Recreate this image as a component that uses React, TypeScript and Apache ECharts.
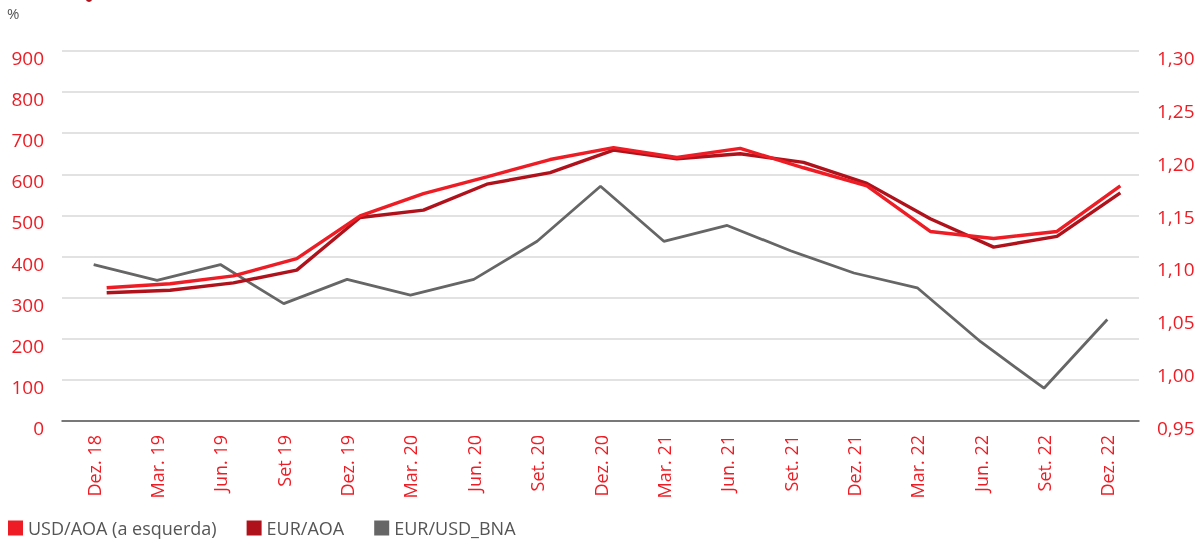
import React, { useEffect, useRef } from "react";
import * as echarts from "echarts";

const categories = [
  "Dez. 18", "Mar. 19", "Jun. 19", "Set 19", "Dez. 19", "Mar. 20", "Jun. 20", "Set. 20", "Dez. 20",
  "Mar. 21", "Jun. 21", "Set. 21", "Dez. 21", "Mar. 22", "Jun. 22", "Set. 22", "Dez. 22",
];
const usdAoa = [324, 334, 353, 395, 499, 553, 594, 636, 665, 641, 663, 616, 572, 461, 444, 461, 572];
const eurAoa = [312, 318, 336, 367, 495, 513, 576, 604, 659, 638, 650, 629, 578, 492, 423, 449, 555];
const eurUsdBna = [1.098, 1.083, 1.098, 1.061, 1.084, 1.069, 1.084, 1.12, 1.172, 1.12, 1.135, 1.111, 1.09, 1.076, 1.025, 0.981, 1.046];
const leftTicks = { min: 0, max: 900, interval: 100 };
const rightTicks = { min: 0.95, max: 1.3, interval: 0.05 };

const RED = "#ee1d25";
const DARK_RED = "#b0121b";
const GRAY = "#666666";
const FONT = "Open Sans";

export default function App() {
  const ref = useRef<HTMLDivElement>(null);
  useEffect(() => {
    if (!ref.current) return;
    const chart = echarts.init(ref.current, null, { renderer: "svg" });
    const labelStyle = { color: RED, fontSize: 18, fontFamily: FONT };
    chart.setOption({
      animation: false,
      textStyle: { fontFamily: FONT },
      graphic: [
        { type: "text", left: 7, top: 5, style: { text: "%", fill: "#555", fontSize: 15, fontFamily: FONT } },
        { type: "circle", shape: { cx: 89, cy: -1, r: 3 }, style: { fill: DARK_RED } },
      ],
      legend: {
        left: 3,
        top: 514,
        icon: "rect",
        itemWidth: 15,
        itemHeight: 15,
        itemGap: 30,
        textStyle: { color: "#555", fontSize: 18, fontFamily: FONT },
        data: ["USD/AOA (a esquerda)", "EUR/AOA", "EUR/USD_BNA"],
      },
      grid: [
        { left: 62, right: 61, top: 51, bottom: 120 },
        { left: 75, right: 48, top: 51, bottom: 120 },
      ],
      xAxis: [
        {
          type: "category",
          gridIndex: 0,
          data: categories,
          boundaryGap: true,
          axisLine: { lineStyle: { color: "#555", width: 1.5 } },
          axisTick: { alignWithLabel: true, inside: true, length: 9, lineStyle: { color: "#444", width: 1.5 } },
          axisLabel: { ...labelStyle, rotate: 90, margin: 14, interval: 0 },
        },
        {
          type: "category",
          gridIndex: 1,
          data: categories,
          boundaryGap: true,
          show: false,
        },
      ],
      yAxis: [
        {
          type: "value",
          gridIndex: 0,
          position: "left",
          ...leftTicks,
          axisLine: { show: false },
          axisTick: { show: false },
          splitLine: { lineStyle: { color: "#d9d9d9", width: 1.5 } },
          axisLabel: { ...labelStyle, fontSize: 19, margin: 18, verticalAlign: "top", lineHeight: 14 },
        },
        {
          type: "value",
          gridIndex: 0,
          position: "right",
          ...rightTicks,
          axisLine: { show: false },
          axisTick: { show: false },
          splitLine: { show: false },
          axisLabel: {
            ...labelStyle,
            fontSize: 19,
            margin: 18,
            verticalAlign: "top",
            lineHeight: 14,
            formatter: (v: number) => v.toFixed(2).replace(".", ","),
          },
        },
        {
          type: "value",
          gridIndex: 1,
          ...leftTicks,
          show: false,
          splitLine: { show: false },
        },
      ],
      series: [
        {
          name: "EUR/USD_BNA",
          type: "line",
          xAxisIndex: 0,
          yAxisIndex: 1,
          data: eurUsdBna,
          symbol: "none",
          lineStyle: { color: GRAY, width: 2.8 },
          itemStyle: { color: GRAY },
        },
        {
          name: "EUR/AOA",
          type: "line",
          xAxisIndex: 1,
          yAxisIndex: 2,
          data: eurAoa,
          symbol: "none",
          lineStyle: { color: DARK_RED, width: 3.4 },
          itemStyle: { color: DARK_RED },
        },
        {
          name: "USD/AOA (a esquerda)",
          type: "line",
          xAxisIndex: 1,
          yAxisIndex: 2,
          data: usdAoa,
          symbol: "none",
          lineStyle: { color: RED, width: 3.4 },
          itemStyle: { color: RED },
        },
      ],
    });
    return () => chart.dispose();
  }, []);
  return <div ref={ref} style={{ position: "fixed", left: 0, top: 0, width: 1200, height: 541 }} />;
}
